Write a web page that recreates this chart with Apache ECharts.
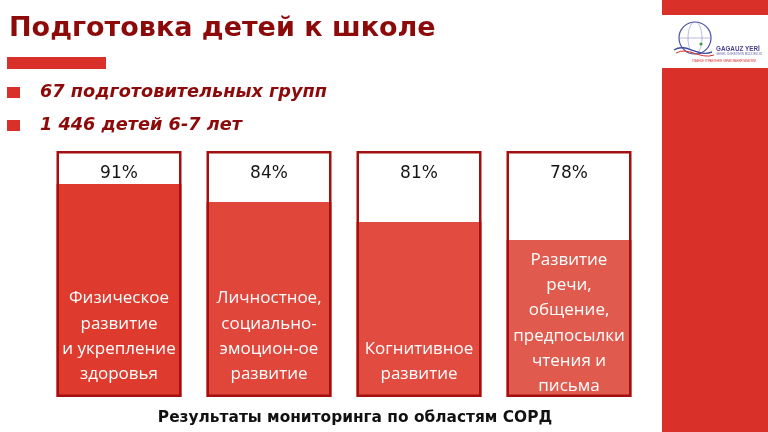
<!DOCTYPE html>
<html>
<head>
<meta charset="utf-8">
<script src="https://cdn.jsdelivr.net/npm/echarts@6/dist/echarts.min.js"></script>
<style>
html,body{margin:0;padding:0;background:#fff;}
#chart{width:768px;height:432px;}
</style>
</head>
<body>
<div id="chart"></div>
<script>
// ---- data ----
const categories = [
  'Физическое\nразвитие\nи укрепление\nздоровья',
  'Личностное,\nсоциально-\nэмоцион-ое\nразвитие',
  'Когнитивное\nразвитие',
  'Развитие\nречи,\nобщение,\nпредпосылки\nчтения и\nписьма'
];
const values = [91, 84, 81, 78];            // percentage shown on each box
const fillLevel = [86.6, 79.3, 71.1, 63.8]; // filled share of each box as drawn
const boxFull = [100, 100, 100, 100];
const fillColors = ['#de3b2e', '#e0463a', '#e24c40', '#e05a4e'];
const titleText = 'Подготовка детей к школе';
const bullets = ['67 подготовительных групп', '1 446 детей 6-7 лет'];
const caption = 'Результаты мониторинга по областям СОРД';

const chart = echarts.init(document.getElementById('chart'), null, {renderer: 'canvas'});

const option = {
  backgroundColor: '#ffffff',
  animation: false,
  grid: {left: 44, width: 600, top: 151, height: 246},
  xAxis: {type: 'category', data: categories, show: false},
  yAxis: {type: 'value', min: 0, max: 100, show: false},
  series: [
    {
      name: 'box', type: 'bar', data: boxFull, barWidth: 125, barGap: '-100%',
      itemStyle: {color: '#ffffff'}, silent: true
    },
    {
      name: 'fill', type: 'bar', data: fillLevel.map((v, i) => ({
        value: v,
        itemStyle: {color: fillColors[i]},
        label: {distance: i === 3 ? -2 : 10}
      })),
      barWidth: 125, barGap: '-100%',
      label: {
        show: true, position: 'insideBottom',
        formatter: p => categories[p.dataIndex],
        color: '#ffffff', fontFamily: 'Open Sans', fontSize: 17, lineHeight: 25.3
      }
    },
    {
      name: 'frame', type: 'bar', data: boxFull, barWidth: 125, barGap: '-100%',
      itemStyle: {color: 'rgba(0,0,0,0)', borderColor: '#a3100f', borderWidth: 2.5},
      label: {
        show: true, position: 'insideTop', distance: 14,
        formatter: p => values[p.dataIndex] + '%',
        color: '#151515', fontFamily: 'DejaVu Sans', fontSize: 17, lineHeight: 18
      }
    }
  ],
  graphic: [
    // right decorative band with logo
    {type: 'rect', shape: {x: 662, y: 0, width: 106, height: 432}, style: {fill: '#d9302a'}},
    {type: 'rect', shape: {x: 662, y: 15, width: 106, height: 53}, style: {fill: '#ffffff'}},
    {type: 'circle', shape: {cx: 695, cy: 38, r: 16}, style: {fill: 'none', stroke: '#4a4f9e', lineWidth: 1.2}},
    {type: 'ellipse', shape: {cx: 695, cy: 38, rx: 7, ry: 16}, style: {fill: 'none', stroke: '#8a8fc4', lineWidth: 0.6}},
    {type: 'line', shape: {x1: 679, y1: 38, x2: 711, y2: 38}, style: {stroke: '#8a8fc4', lineWidth: 0.6}},
    {type: 'bezierCurve', shape: {x1: 674, y1: 50, x2: 712, y2: 52, cpx1: 686, cpy1: 42, cpx2: 698, cpy2: 58}, style: {fill: 'none', stroke: '#3f4aa0', lineWidth: 1.4}},
    {type: 'bezierCurve', shape: {x1: 676, y1: 53, x2: 714, y2: 55, cpx1: 688, cpy1: 46, cpx2: 700, cpy2: 60}, style: {fill: 'none', stroke: '#d9302a', lineWidth: 1}},
    {type: 'circle', shape: {cx: 701, cy: 44, r: 1.6}, style: {fill: '#3aa04a'}},
    {type: 'text', style: {x: 716, y: 49, text: 'GAGAUZ YERİ', fill: '#4a3f8e', font: 'bold 6.3px "Liberation Sans"', textVerticalAlign: 'middle'}},
    {type: 'text', style: {x: 716, y: 54.5, text: 'GENEL ÜGRETİMİN MÜDÜRLÜÜ', fill: '#6a6fae', font: '3px "Liberation Sans"', textVerticalAlign: 'middle'}},
    {type: 'text', style: {x: 692, y: 61, text: 'ГЛАВНОЕ УПРАВЛЕНИЕ ОБРАЗОВАНИЯ ГАГАУЗИИ', fill: '#d9302a', font: '2.6px "Liberation Sans"', textVerticalAlign: 'middle'}},
    // title
    {type: 'text', style: {x: 9, y: 29, text: titleText, fill: '#8c0a0a', font: 'bold 27px "DejaVu Sans"', textVerticalAlign: 'middle'}},
    {type: 'rect', shape: {x: 7, y: 57, width: 99, height: 12}, style: {fill: '#d9302a'}},
    // bullets
    {type: 'rect', shape: {x: 7, y: 87, width: 13, height: 11}, style: {fill: '#d9302a'}},
    {type: 'rect', shape: {x: 7, y: 120, width: 13, height: 11}, style: {fill: '#d9302a'}},
    {type: 'text', style: {x: 40, y: 92, text: bullets[0], fill: '#8c0a0a', font: 'italic bold 17.7px "DejaVu Sans"', textVerticalAlign: 'middle'}},
    {type: 'text', style: {x: 40, y: 125, text: bullets[1], fill: '#8c0a0a', font: 'italic bold 17.7px "DejaVu Sans"', textVerticalAlign: 'middle'}},
    // caption
    {type: 'text', style: {x: 355, y: 418, text: caption, fill: '#111111', font: 'bold 15.4px "DejaVu Sans"', textAlign: 'center', textVerticalAlign: 'middle'}}
  ]
};
chart.setOption(option);
</script>
</body>
</html>
